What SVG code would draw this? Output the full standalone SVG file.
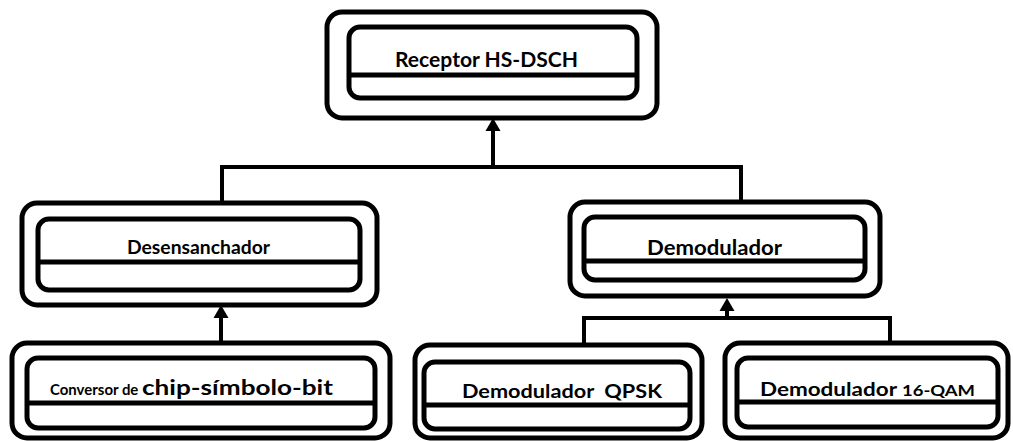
<svg xmlns="http://www.w3.org/2000/svg" width="1013" height="441" viewBox="0 0 1013 441">
  <style>
    .outer { fill: #ffffff; stroke: #000000; stroke-width: 5; }
    .inner { fill: #ffffff; stroke: #000000; stroke-width: 5; }
    .div { stroke: #000000; stroke-width: 5; fill: none; }
    .conn { stroke: #000000; stroke-width: 4; fill: none; }
    .lbl { font-family: "Lato", "Open Sans", "Liberation Sans", sans-serif; font-weight: bold; fill: #000000; }
  </style>
  <defs>
    <marker id="arr" viewBox="0 0 13 15" refX="0" refY="7.5" markerWidth="13" markerHeight="15" markerUnits="userSpaceOnUse" orient="auto" overflow="visible">
      <path d="M0,0 L13,7.5 L0,15 z" fill="#000000"/>
    </marker>
  </defs>
  <rect width="1013" height="441" fill="#ffffff"/>

  <g id="connectors">
    <path class="conn" d="M222 203 V167 H741 V202"/>
    <line class="conn" x1="493" y1="167" x2="493" y2="131" marker-end="url(#arr)"/>
    <line class="conn" x1="221" y1="343" x2="221" y2="318" marker-end="url(#arr)"/>
    <path class="conn" d="M584 345 V318 H890 V343"/>
    <line class="conn" x1="727" y1="318" x2="727" y2="311" marker-end="url(#arr)"/>
  </g>

  <g id="node-receptor">
    <rect class="outer" x="327" y="12" width="330" height="106" rx="15"/>
    <rect class="inner" x="349" y="27" width="288" height="71" rx="11"/>
    <line class="div" x1="349" y1="75" x2="637" y2="75"/>
    <text class="lbl" x="395" y="67" font-size="21" textLength="183" lengthAdjust="spacingAndGlyphs">Receptor HS-DSCH</text>
  </g>

  <g id="node-desensanchador">
    <rect class="outer" x="22" y="203" width="355" height="102" rx="15"/>
    <rect class="inner" x="38" y="219" width="322" height="71" rx="11"/>
    <line class="div" x1="38" y1="262" x2="360" y2="262"/>
    <text class="lbl" x="127" y="254" font-size="18" textLength="143" lengthAdjust="spacingAndGlyphs">Desensanchador</text>
  </g>

  <g id="node-demodulador">
    <rect class="outer" x="570" y="202" width="310" height="94" rx="15"/>
    <rect class="inner" x="584" y="217" width="281" height="63" rx="11"/>
    <line class="div" x1="584" y1="261" x2="865" y2="261"/>
    <text class="lbl" x="647" y="255" font-size="21" textLength="135" lengthAdjust="spacingAndGlyphs">Demodulador</text>
  </g>

  <g id="node-conversor">
    <rect class="outer" x="12" y="343" width="378" height="95" rx="15"/>
    <rect class="inner" x="27" y="358" width="348" height="70" rx="11"/>
    <line class="div" x1="27" y1="403" x2="375" y2="403"/>
    <text class="lbl" y="395" xml:space="preserve"><tspan x="50" font-size="15.5" textLength="92" lengthAdjust="spacingAndGlyphs">Conversor de </tspan><tspan x="142" font-size="21" textLength="191" lengthAdjust="spacingAndGlyphs">chip-símbolo-bit</tspan></text>
  </g>

  <g id="node-qpsk">
    <rect class="outer" x="415" y="345" width="287" height="93" rx="15"/>
    <rect class="inner" x="424" y="362" width="266" height="67" rx="11"/>
    <line class="div" x1="424" y1="405" x2="690" y2="405"/>
    <text class="lbl" x="462" y="398" font-size="19" xml:space="preserve" textLength="200" lengthAdjust="spacingAndGlyphs">Demodulador  QPSK</text>
  </g>

  <g id="node-16qam">
    <rect class="outer" x="725" y="343" width="283" height="95" rx="15"/>
    <rect class="inner" x="737" y="358" width="261" height="69" rx="11"/>
    <line class="div" x1="737" y1="402" x2="998" y2="402"/>
    <text class="lbl" y="396" xml:space="preserve"><tspan x="760" font-size="19" textLength="142" lengthAdjust="spacingAndGlyphs">Demodulador </tspan><tspan x="902" font-size="16" textLength="73" lengthAdjust="spacingAndGlyphs">16-QAM</tspan></text>
  </g>
</svg>
